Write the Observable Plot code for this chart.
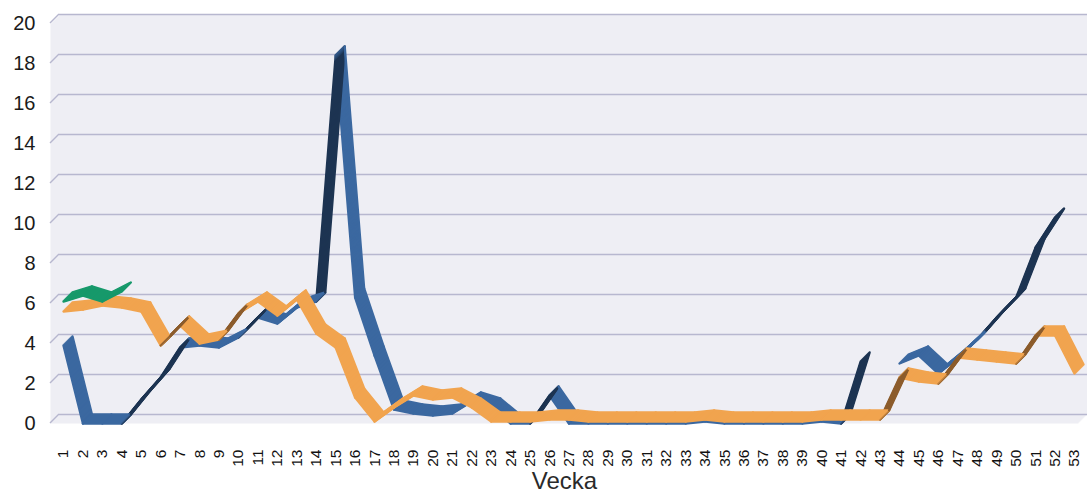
<!DOCTYPE html>
<html>
<head>
<meta charset="utf-8">
<script src="https://cdn.jsdelivr.net/npm/d3@7"></script>
<script src="https://cdn.jsdelivr.net/npm/@observablehq/plot@0.6"></script>
<style>
  html, body { margin: 0; padding: 0; background: #fff; }
  #chart svg { display: block; }
</style>
</head>
<body>
<div id="chart"></div>
<script>
// ---- data ----
const weeks = [1,2,3,4,5,6,7,8,9,10,11,12,13,14,15,16,17,18,19,20,21,22,23,24,25,26,27,28,29,30,31,32,33,34,35,36,37,38,39,40,41,42,43,44,45,46,47,48,49,50,51,52,53];
const yTicks = [0,2,4,6,8,10,12,14,16,18,20];
const blueSeries = [3.9,0,0,0,1.2,2.3,3.8,3.9,3.8,4.3, 5.3,5.0,5.8,6.1,18.4,6.3,3.4,0.7,0.5,0.4, 0.5,1.1,0.8,0,0,1.4,0,0,0,0, 0,0,0,0.1,0,0,0,0,0,0.1, 0,3.1,null,3.0,3.4,2.5,3.3,4.2,5.3,6.3, 8.8,10.3,null];
const orangeSeries = [5.6,5.7,5.9,5.8,5.6,3.9,4.9,4.0,4.2,5.5, 6.1,5.4,6.2,4.5,3.8,1.3,0.1,0.8,1.4,1.2, 1.3,0.8,0.1,0.1,0.1,0.2,0.2,0.1,0.1,0.1, 0.1,0.1,0.1,0.2,0.1,0.1,0.1,0.1,0.1,0.2, 0.2,0.2,0.2,2.3,2.1,2.0,3.3,3.2,3.1,3.0, 4.4,4.4,2.5];
const greenSeries = [6.1,6.4,6.1,6.6];

// ---- layout / style ----
const W = 1087, H = 496;
const mL = 50, mR = 9, mT = 23, mB = 73;
const depth = 9;
const xRange = [63, 1074];
const font = "'Liberation Sans', Arial, sans-serif";
const seriesStyle = [
  {vals: blueSeries, lit: "#3b68a0", dark: "#1d3452"},
  {vals: orangeSeries, lit: "#f1a44f", dark: "#8c5c2c"},
  {vals: greenSeries, lit: "#17996b", dark: "#0d5e42"}
];

const pxWeek = (xRange[1] - xRange[0]) / (weeks.length - 1);
const pxUnit = (H - mT - mB) / (yTicks[yTicks.length - 1] - yTicks[0]);

function segments(vals, lit, dark) {
  const out = [];
  for (let i = 0; i < vals.length - 1; i++) {
    const a = vals[i], b = vals[i + 1];
    if (a == null || b == null) continue;
    const steep = (b - a) * pxUnit > pxWeek * 0.98;
    const color = steep ? dark : lit;
    out.push({week: weeks[i], value: a, seg: i, color});
    out.push({week: weeks[i + 1], value: b, seg: i, color});
  }
  return out;
}

const offsets = d3.range(0, depth + 1);
const marks = [];
// 3D box (back wall + floor) swept along the depth direction
for (const t of offsets) marks.push(Plot.frame({fill: "#eeeef4", stroke: null, dx: t, dy: -t}));
// gridlines on the back wall
marks.push(Plot.ruleY(yTicks, {y: d => d, dx: depth, dy: -depth, stroke: "#b7b7cf", strokeWidth: 1.4}));
// diagonal stubs on the side wall
marks.push((index, scales, values, dimensions) => {
  const g = document.createElementNS("http://www.w3.org/2000/svg", "g");
  for (const v of yTicks) {
    const y = scales.y(v);
    const l = document.createElementNS("http://www.w3.org/2000/svg", "line");
    l.setAttribute("x1", dimensions.marginLeft);
    l.setAttribute("y1", y);
    l.setAttribute("x2", dimensions.marginLeft + depth);
    l.setAttribute("y2", y - depth);
    l.setAttribute("stroke", "#b7b7cf");
    l.setAttribute("stroke-width", 1.4);
    g.appendChild(l);
  }
  return g;
});
// ribbons
for (const s of seriesStyle) {
  const segs = segments(s.vals, s.lit, s.dark);
  for (const t of offsets) {
    marks.push(Plot.line(segs, {x: "week", y: "value", z: "seg", stroke: "color", strokeWidth: 2.4, strokeLinecap: "round", dx: t, dy: -t}));
  }
}
marks.push(Plot.axisY({ticks: yTicks, tickSize: 0, tickPadding: 15, fontSize: 20, label: null, fill: "#1a1a1a"}));
marks.push(Plot.axisX({ticks: weeks, tickFormat: d => String(d), tickRotate: -90, tickSize: 0, tickPadding: 26, fontSize: 15.5, label: null, fill: "#111"}));
marks.push(Plot.text(["Vecka"], {frameAnchor: "bottom", lineAnchor: "middle", dy: 58, fontSize: 24, fill: "#2a2a2a", text: d => d}));

const chart = Plot.plot({
  width: W, height: H,
  marginLeft: mL, marginRight: mR, marginTop: mT, marginBottom: mB,
  style: {fontFamily: font, background: "#fff", overflow: "visible"},
  x: {type: "linear", domain: [weeks[0], weeks[weeks.length - 1]], range: xRange},
  y: {domain: [0, 20]},
  color: {type: "identity"},
  marks
});
document.getElementById("chart").appendChild(chart);
</script>
</body>
</html>
